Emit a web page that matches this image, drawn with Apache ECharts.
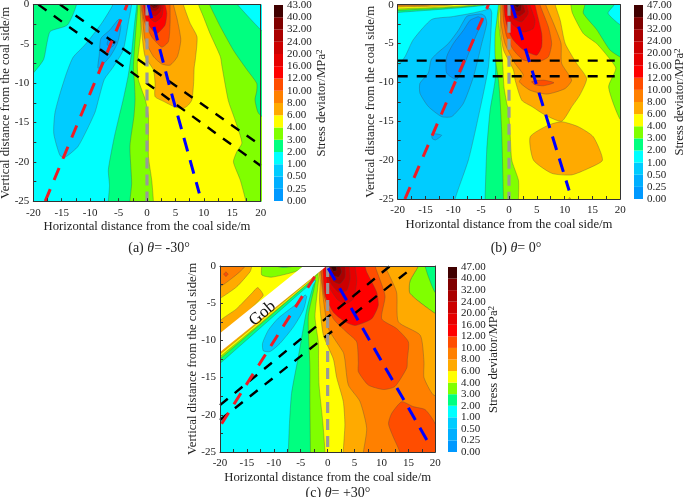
<!DOCTYPE html>
<html>
<head>
<meta charset="utf-8">
<style>
  html, body { margin: 0; padding: 0; background: #fff; }
  #main { width: 685px; height: 497px; }
</style>
</head>
<body>
<div id="main"></div>
<script src="https://cdn.jsdelivr.net/npm/echarts@6/dist/echarts.min.js"></script>
<script>
// colour scale
const bandColors = ['#0099ff', '#00afff', '#00ccff', '#00ffff', '#00ff80', '#80ff00', '#ffff00', '#ffaa00',
  '#ff8000', '#ff4d00', '#ff0000', '#e60000', '#cc0000', '#aa0000', '#800000', '#400000'];
const labelsA = ['0.00', '0.25', '0.50', '1.00', '2.00', '3.00', '4.00', '6.00', '8.00', '10.00', '12.00', '16.00', '20.00', '24.00', '32.00', '40.00', '43.00'];
const labelsB = ['0.00', '0.25', '0.50', '1.00', '2.00', '3.00', '4.00', '6.00', '8.00', '10.00', '12.00', '16.00', '20.00', '24.00', '32.00', '40.00', '47.00'];
const labelsC = labelsB;

// contour outlines, [horizontal m, vertical m]
// panel (a)
const aBase = [[-21, 1], [21, 1], [21, -26], [-21, -26]];
const aLeftGreen = [[-22, 2], [-12.4, 2], [-12.4, 0], [-14, -2.6], [-17, -3.4], [-17.6, -4.9], [-18.2, -7], [-20, -8.7], [-22, -10]];
const aBlue1 = [[-6, 1], [-6, 0], [-8, -2.4], [-10.9, -5.1], [-13, -6.7], [-14.1, -8.6], [-15.3, -11.3], [-16.2, -13.8], [-16.4, -16.4], [-15.3, -19.2], [-14.4, -19.4], [-12.1, -18], [-9.2, -13.8], [-8.5, -12], [-7.5, -9.5], [-6, -8], [-4.2, -5.8], [-3.3, -2.4], [-2.7, 0], [-2.7, 1]];
const aBlue2 = [[-5, -1.9], [-4.6, -2.8], [-5.2, -4.9], [-6.5, -6.6], [-8.6, -8.1], [-8.4, -6.4], [-8.1, -4.3], [-6.5, -3.2]];
const aBlue3 = [[-6.8, -4.5], [-5.4, -4.7], [-6.2, -5.4], [-7, -5.1]];
const aGe2 = [[-1.8, 1], [-1.8, 0], [-2.2, -2.5], [-2.7, -6], [-3.3, -9], [-4.2, -12.1], [-5, -14.5], [-5.8, -17], [-6.8, -21], [-6.6, -23], [-6.8, -25], [-6.8, -27], [22, -27], [22, -4.4], [20, -3.2], [15.9, 0], [15, 1]];
const aGe3 = [[-1.6, 1], [-1.6, 0], [-2, -3.6], [-2.4, -8], [-2.2, -10], [-2.1, -12.1], [-2.3, -14.2], [-3, -18], [-2.7, -22.7], [-3, -25], [-3, -27], [22, -27], [22, -15.5], [19.6, -13.8], [19, -12.1], [19.3, -11], [19.3, -10], [17.6, -8.3], [15.2, -5.8], [12.9, -2.8], [11, 0], [10.5, 1]];
const aGe4 = [[-1.2, 1], [-1.2, 0], [-1.1, -3.6], [-1.7, -7.5], [-1.5, -9.6], [-0.3, -12.1], [0.25, -14.2], [0.25, -19.3], [0.83, -22.3], [1.13, -25], [1.2, -27], [18, -27], [17.4, -25], [16.4, -22.3], [15.2, -20], [15.8, -18.7], [16.7, -17.6], [15.5, -14.7], [14.3, -12.2], [13.2, -7.9], [12.9, -6.6], [11.1, -3.7], [9.9, -1.5], [9.05, 0], [8.8, 1]];
const aGe6 = [[-1.2, 1], [-1.2, 0], [-0.9, -3.65], [-0.34, -6.6], [1.13, -8.3], [1.42, -10], [1.42, -11.7], [2.9, -12.3], [5, -13.05], [6.4, -13.2], [7.3, -12.75], [7.9, -12.1], [8.2, -10], [8.3, -8], [8.5, -7], [8.8, -4.1], [7.6, -2.4], [6.4, 0], [6.2, 1]];
const aGe8 = [[-1.1, 1], [-1.1, 0], [-0.75, -1.96], [-0.34, -4.5], [1.13, -6.6], [2.6, -7.55], [4.06, -7.7], [5.35, -6.6], [5.94, -4.5], [5.35, -2], [4.65, 0], [4.5, 1]];
const aGe10 = [[-0.93, 1], [-0.93, 0], [-0.52, -2], [0.83, -4.1], [2.6, -5.4], [3.77, -4.7], [4.06, -2.4], [4.06, 0], [4, 1]];
const aGe12 = [[-0.63, 1], [-0.63, 0], [-0.16, -2], [1.13, -3.4], [1.83, -3.65], [3.18, -2.6], [3.48, -1.1], [3.18, 0], [3.1, 1]];
const aGe16 = [[-0.34, 1], [-0.34, 0], [0.25, -1.5], [1.42, -2.2], [2.6, -1.5], [2.9, 0], [2.9, 1]];
const aGe20 = [[-0.16, 1], [-0.16, 0], [0.54, -1.1], [1.42, -1.45], [2.3, -0.9], [2.6, 0], [2.6, 1]];
const aGe24 = [[0.25, 1], [0.25, 0], [0.83, -0.7], [1.42, -0.8], [2, -0.5], [2.3, 0], [2.3, 1]];
const aGe32 = [[0.54, 1], [0.54, 0], [1.13, -0.47], [1.7, -0.35], [2, 0], [2, 1]];
const aGe40 = [[0.83, 1], [0.83, 0], [1.42, -0.17], [1.7, 0], [1.7, 1]];

// panel (b)
const bBase = aBase;
const bStripGreen = [[-22, 1], [-3.7, 1], [-3.7, 0], [-20, -1], [-22, -1.1]];
const bStripLime = [[-22, 1], [-4.5, 1], [-4.5, 0], [-20, -0.75], [-22, -0.85]];
const bStripYellow = [[-22, 1], [-6, 1], [-6, 0], [-20, -0.55], [-22, -0.6]];
const bStripOrange = [[-22, 1], [-10, 1], [-10, 0], [-20, -0.3], [-22, -0.35]];
const bStripDeep = [[-22, 1], [-14, 1], [-14, 0], [-20, -0.12], [-22, -0.15]];
const bBlue1 = [[-22, -9], [-19.9, -7.8], [-18.7, -6.7], [-17.2, -4.5], [-13.9, -1.9], [-10.3, -1.55], [-6.7, -1.1], [-4.3, -0.7], [-3.4, -0.5], [-3.1, -1.1], [-3.7, -8], [-5.5, -14.4], [-7.3, -20], [-9.7, -25], [-10, -27], [-22, -27]];
const bBlue2 = [[-6.4, -1.3], [-7.6, -1.5], [-9.1, -3.3], [-10.9, -5], [-13, -6.3], [-14, -7.1], [-14.5, -8.8], [-16, -10.1], [-16, -11.4], [-14.5, -13.1], [-12.1, -14.4], [-10.3, -14.4], [-8.2, -12.7], [-6.4, -9.3], [-4.9, -5], [-4, -2.4], [-4.3, -1.5], [-5, -1.2]];
const bBlue3 = [[-6.1, -1.7], [-7, -2], [-8.2, -3.3], [-10, -5], [-11.2, -6.7], [-11.2, -8.8], [-9.4, -9.6], [-8.2, -8], [-7, -5.8], [-5.5, -3.3], [-4.6, -2], [-5.5, -1.55]];
const bBlueTip = [[-13.8, -16.6], [-12.1, -16.8], [-13.2, -17.4], [-13.8, -17.2]];
const bGe2 = [[-1.3, 1], [-1.3, 0], [-1.9, -0.7], [-2.2, -3.7], [-2.5, -9.7], [-3.4, -13.6], [-4, -18.7], [-4.3, -25], [-4.3, -27], [22, -27], [22, -3.2], [20, -2.6], [17.8, -1.1], [18.9, 0], [19, 1]];
const bGe3 = [[-1.9, 1], [-1.9, 0], [-2.2, -2], [-2.5, -3.7], [-2.5, -6.7], [-1.9, -9.7], [-1.6, -12.3], [-1.3, -16.6], [-1, -25], [-1, -27], [22, -27], [22, -7.2], [19.9, -6.7], [18.1, -5.8], [15.75, -3.2], [13.35, -1.1], [13.65, 0], [13.8, 1]];
const bGe4 = [[-1.6, 1], [-1.6, 0], [-1.9, -2], [-1.5, -4.5], [-1.1, -8], [-0.9, -10.6], [-0.4, -12.7], [-0.1, -13.6], [0.2, -16.6], [0.5, -20], [1.7, -22.6], [1.7, -25], [1.7, -27], [22, -27], [22, -15.5], [20, -14.8], [17.9, -10.6], [19.2, -8.2], [17.8, -6.7], [15.75, -5], [13.35, -3.7], [11.4, -1.1], [11.1, 0], [11, 1]];
const bGe6 = [[-1.5, 1], [-1.5, 0], [-1.6, -2.8], [-1, -5.8], [0.8, -8.4], [1.1, -9.7], [2.3, -12.3], [4.1, -13.1], [6.5, -14.2], [9.46, -15], [11.3, -13.1], [12.75, -11.6], [13.95, -9.5], [12.15, -7.55], [10.1, -5], [9.2, -2], [8.3, 0], [8.2, 1]];
const bGe6Low = [[9.46, -15.06], [12.45, -15.7], [15.15, -17], [16.8, -20], [14.25, -21.07], [11.25, -21.9], [7.7, -21.7], [4.4, -20], [3.8, -17], [7.07, -15.5]];
const bGe6Tip = [[10.5, -25.4], [10.9, -24.8], [11.3, -25.4]];
const bGe8 = [[-1.44, 1], [-1.44, 0], [-1.44, -2.4], [-0.72, -5], [1.08, -7.55], [2.57, -9.05], [1.86, -9.9], [3.77, -11], [6.8, -11.5], [10.06, -10.8], [11.25, -9.7], [9.46, -7.55], [9.35, -5], [8, -2.4], [6.6, 0], [6.5, 1]];
const bGe10 = [[-1.14, 1], [-1.14, 0], [-1, -2], [-0.42, -4.1], [0.78, -5.8], [2.57, -7.1], [5.27, -7.34], [7.07, -6.7], [7.66, -5], [7.07, -2.83], [5.57, 0], [5.5, 1]];
const bGe10Lens = [[4.07, -9.9], [6.17, -9.7], [8.08, -10.04], [6.17, -10.43], [4.67, -10.3]];
const bGe12 = [[-0.9, 1], [-0.9, 0], [-0.72, -1.55], [-0.12, -3.26], [0.78, -4.55], [2.57, -5.8], [4.97, -6.5], [5.87, -5.4], [5.87, -3.7], [4.67, 0], [4.6, 1]];
const bGe16 = [[-0.54, 1], [-0.54, 0], [-0.42, -0.7], [0.48, -2.4], [2.57, -3.5], [4.37, -3.05], [4.67, -2], [3.77, 0], [3.7, 1]];
const bGe20 = [[-0.12, 1], [-0.12, 0], [-0.12, -0.47], [0.78, -1.76], [2.27, -2.2], [3.47, -1.1], [3.17, 0], [3.1, 1]];
const bGe24 = [[0.18, 1], [0.18, 0], [0.78, -0.9], [1.86, -1.46], [2.87, -0.9], [2.57, 0], [2.5, 1]];
const bGe32 = [[0.6, 1], [0.6, 0], [0.78, -0.47], [1.5, -0.9], [2.1, -0.7], [2.27, 0], [2.27, 1]];
const bGe40 = [[0.96, 1], [0.96, 0], [1.5, -0.34], [1.86, 0], [1.86, 1]];

// panel (c)
const cBase = [[-22, 2], [22, 2], [22, -27], [-22, -27]];
const cGe3 = [[-2.35, 1], [-2.35, -2.3], [-3.6, -6.8], [-3.3, -13.5], [-3.3, -18], [-3.2, -25], [-3.2, -27], [22, -27], [22, -4.6], [20, -3.6], [18.7, -1.4], [18.1, 0], [18, 1]];
const cGe4 = [[-1.7, 1], [-1.7, -1.9], [-2.35, -6.8], [-1.7, -10.4], [-1.7, -12.4], [-1.6, -16], [-0.9, -21], [-0.5, -25], [-0.5, -27], [22, -27], [22, -7], [20, -6.4], [15.3, -3.7], [15.3, -2], [16.85, 0], [17, 1]];
const cGe6 = [[-1.4, 1], [-1.4, -2.2], [-1.5, -4.8], [-0.8, -9.3], [1.06, -12.5], [1.68, -15], [2.9, -18.2], [3.2, -21.3], [2.9, -25], [2.9, -27], [22, -27], [22, -7], [20, -6.4], [15.3, -3.7], [15.3, -2], [16.85, 0], [17, 1]];
const cGe8 = [[-1.4, 1], [-1.4, 0], [-0.9, -3.9], [0.13, -8.4], [2.9, -11.6], [3.2, -12.6], [3.85, -16], [6, -18.2], [7.25, -21.8], [6.65, -25], [6.5, -27], [22, -27], [22, -18], [19.6, -17.3], [17.9, -15], [17.9, -12.9], [17.2, -9.3], [13.14, -7.5], [12.8, -3.5], [10.66, 0], [10.5, 1]];
const cGe10 = [[-1.3, 1], [-1.3, 0], [-0.67, -4], [1.06, -7.1], [3.54, -8.9], [5.4, -10.2], [5.7, -13], [5.7, -14.2], [7.56, -16], [10.35, -16.6], [12.5, -16.2], [14.7, -13.7], [14.8, -12.6], [15, -10.2], [12.8, -8.4], [10.04, -7.1], [10.66, -4], [8.8, 0], [8.6, 1]];
const cGe10Low = [[13.75, -18.25], [11.9, -19.8], [11.3, -21.2], [12.2, -23], [13.4, -25], [13.6, -27], [21, -27], [21, -23], [19.6, -20.7], [18.1, -19.3], [15.9, -18.9]];
const cGe12 = [[-0.9, 1], [-0.9, 0], [-0.49, -3.9], [1.06, -6.2], [3.23, -7.5], [5.1, -8], [8.18, -7.1], [9.4, -5.3], [9.1, -3.5], [7.25, -0.8], [6.94, 0], [6.8, 1]];
const cGe16 = [[-0.49, 1], [-0.49, 0], [0.13, -2.6], [1.68, -4.4], [3.23, -5.1], [4.8, -4.4], [5.4, -2], [5.1, 0], [5, 1]];
const cGe20 = [[-0.18, 1], [-0.18, 0], [0.44, -2.15], [2, -3.5], [3.54, -3.3], [4.16, -1.7], [4.03, 0], [4, 1]];
const cGe24 = [[0.13, 1], [0.13, 0], [1.06, -2], [2.3, -2.4], [3.23, -1.5], [3.23, 0], [3.2, 1]];
const cGe32 = [[0.32, 1], [0.32, 0], [1.06, -1.25], [2, -1.5], [2.6, -0.8], [2.3, 0], [2.3, 1]];
const cGe40 = [[0.57, 1], [0.57, 0], [1.06, -0.7], [1.68, -0.58], [1.56, 0], [1.5, 1]];
const cTopYellow = [[-22, 2], [-4, 2], [-4, 0], [-20, -10], [-22, -11]];
const cTopOrange = [[-22, 2], [-14.1, 2], [-14.1, 0], [-14.4, -0.76], [-16.9, -2.8], [-20, -4.35], [-22, -5]];
const cTopDeep = [[-22, 2], [-15.35, 2], [-15.35, 0], [-16.3, -0.76], [-17.8, -1.66], [-20, -2.8], [-22, -3.4]];
const cTopSpot = [[-18.9, -0.8], [-18.5, -1.1], [-18.9, -1.4], [-19.3, -1.1]];
const cTopLime = [[-12.25, 1], [-12.25, 0], [-12.25, -1.2], [-10.4, -1.5], [-6, -0.75], [-4.5, -0.1], [-4.5, 1]];
const cTopGreen = [[-9.5, 1], [-9.5, 0], [-8.2, -0.2], [-6.4, 0], [-6.4, 1]];
const cWedgeOrange = [[-22, -11], [-20, -7.4], [-17, -5.8], [-14, -3.6], [-13, -2.9], [-12, -4]];
const cStripLime = [[-22, -13.7], [-20, -12.5], [-2.5, -1.6], [-1.5, -0.6], [-20, -10], [-22, -11]];
const cStripYellow = [[-22, -13.4], [-20, -12.2], [-3, -1.9], [-1.8, -0.7], [-20, -10], [-22, -11]];
const cStripOrange = [[-22, -13], [-20, -11.85], [-3.5, -2], [-2, -0.8], [-20, -10], [-22, -11]];
const cCyan = [[-22, -14.3], [-20, -13.1], [-2.4, -1.9], [-2.2, -2], [-2.66, -2.6], [-3.9, -5.9], [-5.45, -12.2], [-6.7, -17.1], [-7.1, -21.2], [-7.3, -25], [-7.3, -27], [-22, -27]];
const cBlue = [[-4.2, -3.9], [-6.06, -5.24], [-9.16, -7], [-11, -8.6], [-12.1, -10.4], [-11.95, -11.4], [-10.7, -11.5], [-8.85, -10.4], [-6.37, -8.2], [-4.5, -5.9], [-3.9, -4.1]];
const cGob = [[-24.7, -11.8], [-4.5, 0], [-0.2, 0], [-24.7, -14.3]];

// guide lines, [horizontal m, vertical m]
const aRed = [[-17.9, -25], [-3.5, 0]];
const aBlue = [[0.2, 0], [3.75, -9.8], [9.2, -24]];
const aBlackUp = [[-15.3, 0], [19, -17.4]];
const aBlackLow = [[-19.1, 0], [20, -20.5]];
const bRed = [[-18.7, -25], [-3.7, 0]];
const bBlue = [[0.5, 0], [10.8, -23.9]];
const bBlackUp = [[-20, -7.2], [19, -7.2]];
const bBlackLow = [[-20, -9.2], [19, -9.2]];
const cRed = [[-19.7, -21.2], [-2.2, -1.2]];
const cBlue2 = [[0.1, -0.3], [19, -24.1]];
const cBlackUp = [[-20, -18.7], [11.6, 0]];
const cBlackLow = [[-20, -20.7], [15.3, -0.5]];
const grayLine = [[0, 0], [0, -25]];

// paint order: [outline, colour band, draw contour line]
const aLayers = [[aBase, 3, 0], [aLeftGreen, 4, 1], [aBlue1, 2, 1], [aBlue2, 1, 1], [aBlue3, 0, 1], [aGe2, 4, 1], [aGe3, 5, 1], [aGe4, 6, 1], [aGe6, 7, 1], [aGe8, 8, 1], [aGe10, 9, 1], [aGe12, 10, 1], [aGe16, 11, 1], [aGe20, 12, 1], [aGe24, 13, 1], [aGe32, 14, 1], [aGe40, 15, 1]];
const bLayers = [[bBase, 3, 0], [bBlue1, 2, 1], [bStripGreen, 4, 1], [bStripLime, 5, 1], [bStripYellow, 6, 1], [bStripOrange, 7, 1], [bStripDeep, 8, 1], [bBlue2, 1, 1], [bBlue3, 0, 1], [bBlueTip, 1, 1], [bGe2, 4, 1], [bGe3, 5, 1], [bGe4, 6, 1], [bGe6, 7, 1], [bGe6Low, 7, 1], [bGe6Tip, 7, 1], [bGe8, 8, 1], [bGe10, 9, 1], [bGe10Lens, 9, 1], [bGe12, 10, 1], [bGe16, 11, 1], [bGe20, 12, 1], [bGe24, 13, 1], [bGe32, 14, 1], [bGe40, 15, 1]];
const cLayers = [[cBase, 4, 0], [cGe3, 5, 1], [cGe4, 6, 1], [cGe6, 7, 1], [cGe8, 8, 1], [cGe10, 9, 1], [cGe10Low, 9, 1], [cGe12, 10, 1], [cGe16, 11, 1], [cGe20, 12, 1], [cGe24, 13, 1], [cGe32, 14, 1], [cGe40, 15, 1], [cStripLime, 5, 1], [cStripYellow, 6, 1], [cStripOrange, 7, 1], [cTopYellow, 6, 1], [cTopOrange, 7, 1], [cTopDeep, 8, 1], [cTopSpot, 9, 1], [cTopLime, 5, 1], [cTopGreen, 4, 1], [cWedgeOrange, 7, 1], [cCyan, 3, 1]];

const panels = [
  { id: 'a', layers: aLayers, labels: labelsA, red: aRed, blue: aBlue, up: aBlackUp, low: aBlackLow, rect: [33.3, 4.6, 227.4, 196.6], bar: [274, 5, 9, 196], barGap: 32, caption: '{n|(a) }{i|θ}{n|= -30°}', capPos: [154, 236] },
  { id: 'b', layers: bLayers, labels: labelsB, red: bRed, blue: bBlue, up: bBlackUp, low: bBlackLow, rect: [397.7, 4.7, 222.6, 194.3], bar: [634, 5, 9, 194], barGap: 30, caption: '{n|(b) }{i|θ}{n|= 0°}', capPos: [511, 236] },
  { id: 'c', layers: cLayers, labels: labelsC, red: cRed, blue: cBlue2, up: cBlackUp, low: cBlackLow, rect: [220, 266, 215.3, 186], bar: [448, 267, 9, 185], barGap: 30, caption: '{n|(c) }{i|θ}{n|= +30°}', capPos: [333, 481] }
];

const serif = '"Liberation Serif", "Times New Roman", serif';
const ink = '#222';
const grids = [], xAxes = [], yAxes = [], series = [], titles = [];

function addLine(idx, pts, color, width, dash) {
  series.push({
    type: 'line', xAxisIndex: idx, yAxisIndex: idx, data: pts, symbol: 'none', silent: true, z: 5,
    lineStyle: { color: color, width: width, type: dash, cap: 'butt' }, animation: false, clip: true
  });
}

panels.forEach(function (p, i) {
  grids.push({ left: p.rect[0], top: p.rect[1], width: p.rect[2], height: p.rect[3], outerBoundsMode: 'none' });
  xAxes.push({
    type: 'value', gridIndex: i, min: -20, max: 20, interval: 5, position: 'bottom',
    name: 'Horizontal distance from the coal side/m', nameLocation: 'middle', nameGap: 19, nameMoveOverlap: false,
    nameTextStyle: { fontFamily: serif, fontSize: 12.7, color: ink },
    axisLine: { show: true, onZero: false, lineStyle: { color: '#333', width: 1 } },
    axisTick: { show: true, inside: true, length: 3, lineStyle: { color: '#333' } },
    minorTick: { show: true, splitNumber: 2, length: 3, lineStyle: { color: '#333' } },
    axisLabel: { fontFamily: serif, fontSize: 11, color: ink, margin: 6 },
    splitLine: { show: false }, z: 6
  });
  yAxes.push({
    type: 'value', gridIndex: i, min: -25, max: 0, interval: 5, position: 'left',
    name: 'Vertical distance from the coal side/m', nameLocation: 'middle', nameGap: 21, nameMoveOverlap: false,
    nameTextStyle: { fontFamily: serif, fontSize: 12.7, color: ink },
    axisLine: { show: true, onZero: false, lineStyle: { color: '#333', width: 1 } },
    axisTick: { show: true, inside: true, length: 3, lineStyle: { color: '#333' } },
    minorTick: { show: true, splitNumber: 2, length: 3, lineStyle: { color: '#333' } },
    axisLabel: { fontFamily: serif, fontSize: 11, color: ink, margin: 4 },
    splitLine: { show: false }, z: 6
  });
  titles.push({
    text: p.caption, left: p.capPos[0], top: p.capPos[1], textAlign: 'center',
    textStyle: {
      fontWeight: 'normal',
      rich: {
        n: { fontFamily: serif, fontSize: 14, color: ink, fontWeight: 'normal' },
        i: { fontFamily: serif, fontSize: 14, color: ink, fontStyle: 'italic', fontWeight: 'normal' }
      }
    }
  });
});

// colour bars
panels.forEach(function (p, i) {
  grids.push({ left: p.bar[0], top: p.bar[1], width: p.bar[2], height: p.bar[3], outerBoundsMode: 'none' });
  const idx = 3 + i;
  xAxes.push({ type: 'value', gridIndex: idx, min: 0, max: 1, show: false });
  yAxes.push({
    type: 'value', gridIndex: idx, min: 0, max: 16, interval: 1, position: 'right',
    name: '{a|Stress deviator/MPa}{b|2}', nameLocation: 'middle', nameRotate: 90, nameGap: p.barGap, nameMoveOverlap: false,
    nameTextStyle: {
      rich: {
        a: { fontFamily: serif, fontSize: 12.7, color: ink },
        b: { fontFamily: serif, fontSize: 9, color: ink, verticalAlign: 'top', lineHeight: 14 }
      }
    },
    axisLine: { show: false }, axisTick: { show: false }, splitLine: { show: false },
    axisLabel: {
      fontFamily: serif, fontSize: 11, lineHeight: 9, color: ink, margin: 4, hideOverlap: false, showMinLabel: true, showMaxLabel: true,
      formatter: function (v) { return p.labels[v]; }
    }
  });
  series.push({
    type: 'custom', xAxisIndex: idx, yAxisIndex: idx, silent: true, animation: false,
    data: bandColors.map(function (c, k) { return [k]; }),
    renderItem: function (params, api) {
      const k = api.value(0);
      const a = api.coord([0, k]);
      const b = api.coord([1, k + 1]);
      return { type: 'rect', shape: { x: a[0], y: b[1], width: b[0] - a[0], height: a[1] - b[1] }, style: { fill: bandColors[k] } };
    }
  });
});

// frame on the top and right of each map
panels.forEach(function (p, i) {
  xAxes.push({ type: 'value', gridIndex: i, min: -20, max: 20, position: 'top', axisLabel: { show: false }, axisTick: { show: false }, splitLine: { show: false }, axisLine: { show: true, onZero: false, lineStyle: { color: '#333' } }, z: 6 });
  yAxes.push({ type: 'value', gridIndex: i, min: -25, max: 0, position: 'right', axisLabel: { show: false }, axisTick: { show: false }, splitLine: { show: false }, axisLine: { show: true, onZero: false, lineStyle: { color: '#333' } }, z: 6 });
});

// filled contours and guide lines
panels.forEach(function (p, i) {
  series.push({
    type: 'custom', xAxisIndex: i, yAxisIndex: i, silent: true, animation: false, clip: true, z: 2,
    data: p.layers.map(function (l, k) { return [k, l[1]]; }),
    renderItem: function (params, api) {
      const l = p.layers[api.value(0)];
      return {
        type: 'polygon',
        shape: { points: l[0].map(function (pt) { return api.coord(pt); }), smooth: 0.2 },
        style: { fill: bandColors[l[1]], stroke: l[2] ? 'rgba(70,70,70,0.55)' : 'none', lineWidth: 0.6 }
      };
    }
  });
  if (p.id === 'c') {
    series.push({
      type: 'custom', xAxisIndex: i, yAxisIndex: i, silent: true, animation: false, clip: true, z: 3,
      data: [[0]],
      renderItem: function (params, api) {
        return { type: 'group', children: [
          { type: 'polygon', shape: { points: cBlue.map(function (pt) { return api.coord(pt); }), smooth: 0.2 }, style: { fill: bandColors[2], stroke: 'rgba(70,70,70,0.55)', lineWidth: 0.6 } },
          { type: 'polygon', shape: { points: cGob.map(function (pt) { return api.coord(pt); }) }, style: { fill: '#fff' } }
        ] };
      }
    });
    series.push({
      type: 'custom', xAxisIndex: i, yAxisIndex: i, silent: true, animation: false, z: 7,
      data: [[-12.1, -6.4]],
      renderItem: function (params, api) {
        const c = api.coord([api.value(0), api.value(1)]);
        return { type: 'text', x: c[0], y: c[1], rotation: 40 * Math.PI / 180, style: { text: 'Gob', fontFamily: serif, fontSize: 17, fill: '#111', align: 'center', verticalAlign: 'middle' } };
      }
    });
  }
  addLine(i, p.low, '#000', 2.4, [10, 9]);
  addLine(i, p.up, '#000', 2.4, [10, 9]);
  addLine(i, grayLine, '#999', 3.2, [11, 6]);
  addLine(i, p.red, '#ee1c25', 3, [13, 10]);
  addLine(i, p.blue, '#0000ff', 3, [14, 9]);
});

const myChart = echarts.init(document.getElementById('main'), null, { renderer: 'canvas' });
myChart.setOption({ animation: false, backgroundColor: '#fff', title: titles, grid: grids, xAxis: xAxes, yAxis: yAxes, series: series });
</script>
</body>
</html>
